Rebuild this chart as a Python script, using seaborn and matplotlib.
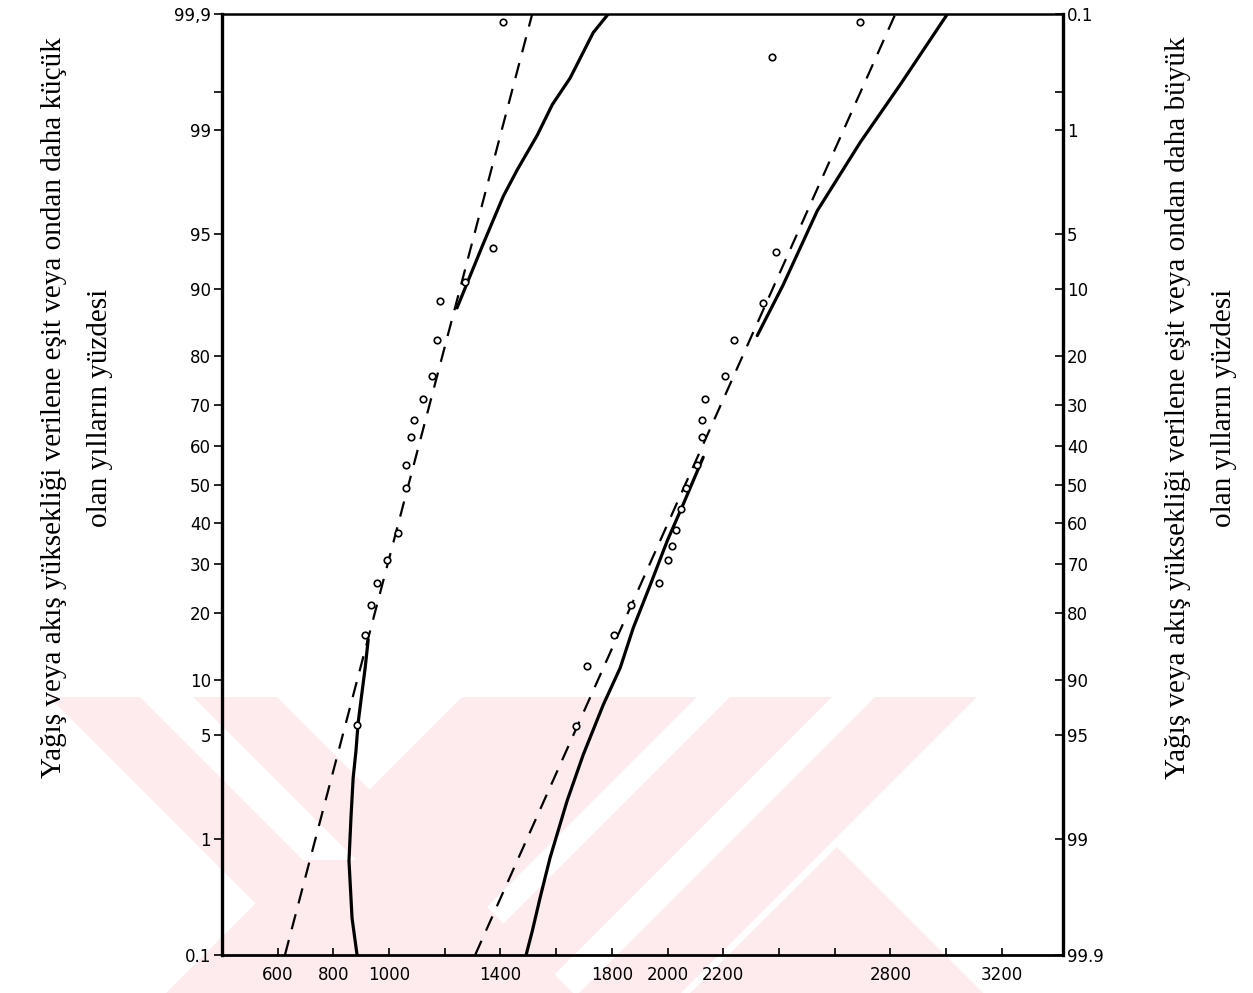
import numpy as np
import pandas as pd
import matplotlib
matplotlib.use("Agg")
import matplotlib.pyplot as plt
from matplotlib.patches import Polygon
import seaborn as sns
from statistics import NormalDist

# ---------------- data ----------------
# probability axis ticks (percent, left axis: "less than or equal")
prob_ticks = [0.1, 1, 5, 10, 20, 30, 40, 50, 60, 70, 80, 90, 95, 99, 99.9]
left_tick_labels = ["0.1", "1", "5", "10", "20", "30", "40", "50", "60", "70",
                    "80", "90", "95", "99", "99,9"]
right_tick_labels = ["99.9", "99", "95", "90", "80", "70", "60", "50", "40", "30",
                     "20", "10", "5", "1", "0.1"]
extra_prob_tick = [99.5]

x_ticks = [600, 800, 1000, 1200, 1400, 1600, 1800, 2000, 2200, 2400, 2600, 2800, 3000, 3200]
x_tick_labels = ["600", "800", "1000", "", "1400", "", "1800", "2000", "2200", "", "", "2800", "", "3200"]

# series 1 (left group) observed points
s1_value = [1410, 1374, 1273, 1183, 1172, 1154, 1122, 1090, 1079, 1061, 1061,
            1032, 993, 957, 935, 914, 885]
s1_prob = [99.88, 94.0, 90.8, 88.6, 82.8, 76.2, 71.2, 66.3, 62.3, 55.0, 49.2,
           37.6, 30.9, 25.9, 21.5, 16.2, 5.7]
# series 1 normal fit (dashed)
s1_norm_value = [626, 1514]
s1_norm_prob = [0.1, 99.9]
# series 1 fitted curve (solid), lower and upper parts
s1_fitA_value = [885, 867, 856, 863, 871, 881, 889, 899, 914, 925]
s1_fitA_prob = [0.1, 0.22, 0.67, 1.42, 2.7, 4.0, 5.9, 7.8, 11.4, 15.4]
s1_fitB_value = [1244, 1338, 1410, 1460, 1532, 1586, 1650, 1733, 1787]
s1_fitB_prob = [87.7, 94.3, 97.08, 98.06, 98.91, 99.37, 99.62, 99.85, 99.9]

# series 2 (right group) observed points
s2_value = [2692, 2376, 2390, 2344, 2239, 2207, 2135, 2124, 2124, 2106, 2067,
            2049, 2031, 2017, 2002, 1970, 1869, 1808, 1711, 1672]
s2_prob = [99.88, 99.75, 93.7, 88.4, 82.8, 76.2, 71.2, 66.3, 62.3, 55.0, 49.2,
           43.7, 38.3, 34.4, 30.9, 25.9, 21.5, 16.2, 11.6, 5.6]
# series 2 normal fit (dashed)
s2_norm_value = [1309, 2818]
s2_norm_prob = [0.1, 99.9]
# series 2 fitted curve (solid), lower and upper parts
s2_fitA_value = [1492, 1514, 1542, 1578, 1639, 1697, 1769, 1830, 1877, 1938, 1999, 2056, 2128]
s2_fitA_prob = [0.1, 0.167, 0.33, 0.71, 1.88, 3.79, 7.39, 11.43, 17.34, 25.5, 35.6, 44.8, 57.1]
s2_fitB_value = [2322, 2415, 2538, 2692, 2836, 3005]
s2_fitB_prob = [83.6, 90.5, 96.4, 98.77, 99.57, 99.9]

left_label = "Yağış veya akış yüksekliği verilene eşit veya ondan daha küçük\nolan yılların yüzdesi"
right_label = "Yağış veya akış yüksekliği verilene eşit veya ondan daha büyük\nolan yılların yüzdesi"

# ---------------- normal probability scale ----------------
_nd = NormalDist()
_ppf = np.vectorize(lambda q: _nd.inv_cdf(q) if np.isfinite(q) else np.nan, otypes=[float])
_cdf = np.vectorize(lambda z: _nd.cdf(z) if np.isfinite(z) else np.nan, otypes=[float])


def prob_forward(p):
    p = np.asarray(p, dtype=float)
    if p.size == 0:
        return p
    q = np.clip(p / 100.0, 1e-9, 1 - 1e-9)
    return _ppf(q)


def prob_inverse(z):
    z = np.asarray(z, dtype=float)
    if z.size == 0:
        return z
    return 100.0 * _cdf(z)


# ---------------- figure ----------------
sns.set_theme(style="white")
plt.rcParams["font.family"] = ["DejaVu Sans"]
plt.rcParams["text.color"] = "black"

W, H = 1253, 993
fig = plt.figure(figsize=(W / 100, H / 100), dpi=100)
fig.patch.set_facecolor("white")

# faint pink background watermark of the scanned page (decoration)
def _fig_poly(pts, color, z):
    xy = [(x / W, 1 - y / H) for x, y in pts]
    fig.patches.append(Polygon(xy, closed=True, transform=fig.transFigure,
                               facecolor=color, edgecolor="none", zorder=z))

_pink = "#fdebee"
for poly in [
    [(49, 697), (277, 697), (573, 993), (345, 993)],
    [(462, 697), (697, 697), (401, 993), (166, 993)],
    [(730, 697), (832, 697), (536, 993), (434, 993)],
    [(875, 697), (977, 697), (681, 993), (579, 993)],
    [(837, 847), (983, 993), (690, 993)],
]:
    _fig_poly(poly, _pink, -10)
_fig_poly([(140, 697), (193, 697), (356, 860), (303, 860)], "white", -9)

ax_l, ax_r, ax_t, ax_b = 222, 1063, 14, 955
ax = fig.add_axes([ax_l / W, 1 - ax_b / H, (ax_r - ax_l) / W, (ax_b - ax_t) / H])
ax.set_facecolor("none")
ax.set_yscale("function", functions=(prob_forward, prob_inverse))

solid_kw = dict(color="black", lw=2.3, sort=False, estimator=None, legend=False)
dash_kw = dict(color="black", lw=1.6, sort=False, estimator=None, legend=False)

for xs, ps in [(s1_fitA_value, s1_fitA_prob), (s1_fitB_value, s1_fitB_prob),
               (s2_fitA_value, s2_fitA_prob), (s2_fitB_value, s2_fitB_prob)]:
    sns.lineplot(x=xs, y=ps, ax=ax, **solid_kw)

for xs, ps in [(s1_norm_value, s1_norm_prob), (s2_norm_value, s2_norm_prob)]:
    sns.lineplot(x=xs, y=ps, ax=ax, **dash_kw)
for line in ax.lines[-2:]:
    line.set_dashes((7, 5))

pts = pd.DataFrame({
    "value": s1_value + s2_value,
    "prob": s1_prob + s2_prob,
})
sns.scatterplot(data=pts, x="value", y="prob", ax=ax, s=22, facecolor="white",
                edgecolor="black", linewidth=1.2, zorder=5, clip_on=False)

ax.set_xlim(400, 3420)
ax.set_ylim(0.1, 99.9)
ax.set_xlabel("")
ax.set_ylabel("")

# left axis ticks
ax.set_yticks(prob_ticks + extra_prob_tick)
ax.set_yticklabels(left_tick_labels + [""])
ax.tick_params(axis="y", which="major", direction="out", length=6, width=1.2,
               colors="black", labelsize=12, pad=2, left=True, right=False)
ax.set_xticks(x_ticks)
ax.set_xticklabels(x_tick_labels)
ax.tick_params(axis="x", which="major", direction="in", length=5, width=1.2,
               colors="black", labelsize=12, pad=8, bottom=True, top=False)
ax.minorticks_off()

for side, lw in [("left", 2.4), ("right", 2.4), ("bottom", 2.0), ("top", 1.8)]:
    ax.spines[side].set_visible(True)
    ax.spines[side].set_color("black")
    ax.spines[side].set_linewidth(lw)

# right axis (complementary percentages)
ax2 = ax.twinx()
ax2.set_facecolor("none")
ax2.set_yscale("function", functions=(prob_forward, prob_inverse))
ax2.set_ylim(0.1, 99.9)
ax2.set_yticks(prob_ticks + extra_prob_tick)
ax2.set_yticklabels(right_tick_labels + [""])
ax2.tick_params(axis="y", which="major", direction="in", length=6, width=1.2,
                colors="black", labelsize=12, pad=3, right=True, left=False)
ax2.minorticks_off()
for s in ax2.spines.values():
    s.set_visible(False)
ax2.grid(False)
ax.grid(False)

fig.text(77 / W, 1 - 408 / H, left_label, rotation=90, ha="center", va="center",
         multialignment="center", fontsize=21, linespacing=2.0, color="black",
         family=["Liberation Serif", "DejaVu Serif"])
fig.text(1201 / W, 1 - 408 / H, right_label, rotation=90, ha="center", va="center",
         multialignment="center", fontsize=21, linespacing=2.0, color="black",
         family=["Liberation Serif", "DejaVu Serif"])

fig.savefig("out.png", dpi=100, facecolor="white")
